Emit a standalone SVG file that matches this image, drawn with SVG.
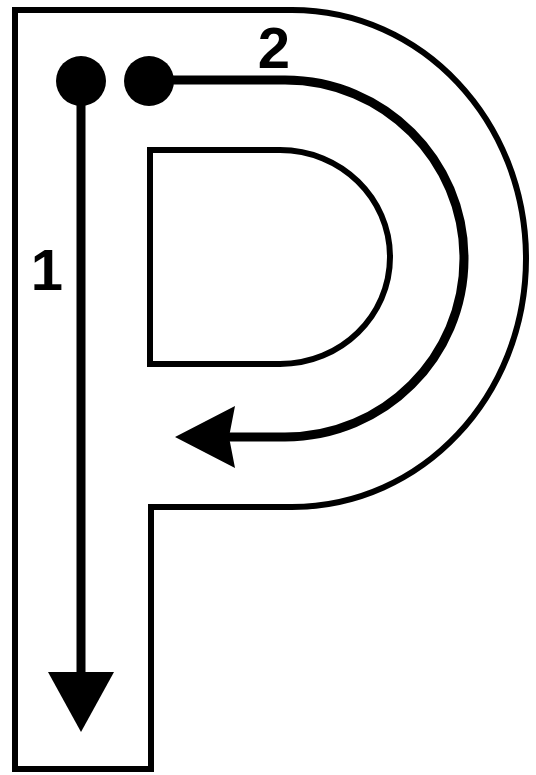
<svg xmlns="http://www.w3.org/2000/svg" width="536" height="775" viewBox="0 0 536 775">
  <style>
    .outline { fill: none; stroke: #000; stroke-width: 6; stroke-linejoin: miter; }
    .stroke { fill: none; stroke: #000; stroke-width: 9; }
    .head { fill: #000; stroke: none; }
    .dot { fill: #000; }
    .label { font-family: "Liberation Sans", Arial, sans-serif; font-weight: bold; font-size: 58px; fill: #000; text-anchor: middle; }
  </style>
  <rect width="536" height="775" fill="#fff"/>
  <g id="letter-outline">
    <path class="outline" d="M 15 10 L 292 10 C 422 10 526 121 526 258.5 C 526 396 422 507 292 507 L 151 507 L 151 769 L 15 769 Z"/>
    <path class="outline" d="M 150 150 L 280 150 C 341 150 390 198 390 257 C 390 316 341 364 280 364 L 150 364 Z"/>
  </g>
  <g id="connectors">
    <path id="stroke-1" class="stroke" d="M 81 80 L 81 676"/>
    <polygon class="head" points="48,672 114,672 81,732"/>
    <path id="stroke-2" class="stroke" d="M 149 80 L 285 80 C 384 80 464 160 464 258.5 C 464 357 384 437 285 437 L 226 437"/>
    <polygon class="head" points="175,437 235,406 229,437 235,468"/>
  </g>
  <g id="start-1">
    <circle class="dot" cx="81" cy="81" r="25"/>
  </g>
  <g id="start-2">
    <circle class="dot" cx="149" cy="81" r="25"/>
  </g>
  <g id="label-1">
    <text class="label" x="47" y="290">1</text>
  </g>
  <g id="label-2">
    <text class="label" x="274" y="68">2</text>
  </g>
</svg>
